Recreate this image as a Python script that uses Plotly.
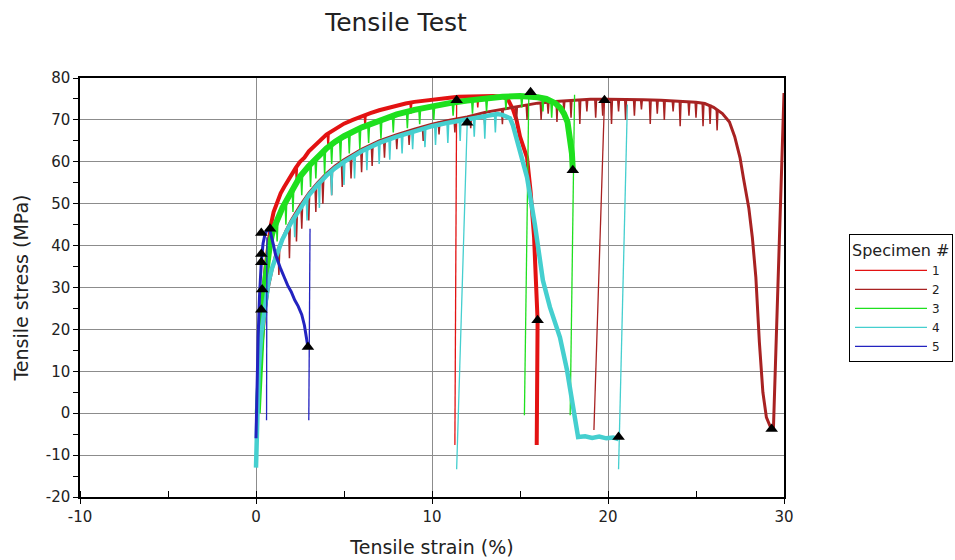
import plotly.graph_objects as go

# ---------------- data ----------------
specimens = ["1", "2", "3", "4", "5"]
colors = ["#e31212", "#a82222", "#1ee01e", "#45cfcf", "#2323c0"]

# Specimen 1 (red) - centre of the noisy band
s1_x = [0.1, 0.25, 0.4, 0.55, 0.7, 0.85, 1.0, 1.2, 1.4, 1.6,
        1.8, 2.0, 2.25, 2.5, 2.75, 3.0, 3.25, 3.5, 3.75, 4.0,
        4.5, 5.0, 5.5, 6.0, 6.5, 7.0, 7.5, 8.0, 8.5, 9.0,
        9.5, 10.0, 10.5, 11.0, 11.5, 12.0, 12.5, 13.0, 13.5, 14.0,
        14.3, 14.6, 14.8, 15.0, 15.2, 15.4, 15.6, 15.8, 15.9, 16.0,
        15.95]
s1_y = [0, 15, 27, 35, 41, 45, 48, 50.5, 52.5, 54,
        55.5, 57, 58.5, 60, 61, 62.5, 63.5, 64.6, 65.6, 66.5,
        67.8, 69.1, 70, 70.9, 71.6, 72.3, 72.9, 73.4, 73.9, 74.3,
        74.6, 74.9, 75.1, 75.3, 75.5, 75.6, 75.7, 75.8, 75.7, 75.5,
        75, 72.5, 70, 66, 63.5, 61, 53, 42, 32, 22.2,
        -7.6]
s1_jx = [11.3, 11.4]
s1_jy = [-7.6, 74.7]
s1_dip_x = [2.3, 4.1, 6.2, 8.8, 12.6]
s1_dip_top = [58.5, 66.6, 71.1, 74.1, 75.7]
s1_dip_low = [55, 63, 68, 71.5, 73]

# Specimen 2 (brown)
s2_x = [0.1, 0.3, 0.5, 0.7, 0.9, 1.1, 1.4, 1.7, 2.0, 2.5,
        3.0, 3.5, 4.0, 4.5, 5.0, 6.0, 7.0, 8.0, 9.0, 10.0,
        11.0, 12.0, 13.0, 14.0, 15.0, 16.0, 17.0, 18.0, 19.0, 20.0,
        21.0, 22.0, 23.0, 24.0, 25.0, 25.5, 26.0, 26.5, 26.9, 27.2,
        27.5, 27.7, 28.0, 28.2, 28.4, 28.6, 28.8, 29.0, 29.2, 29.4,
        30.0]
s2_y = [0, 14, 24, 30, 34, 37.5, 40.5, 43.5, 46, 49.5,
        52.5, 55, 57.2, 59, 60.5, 63, 65, 66.5, 67.8, 69,
        69.9, 70.7, 71.8, 72.5, 73.3, 74.0, 74.4, 74.7, 74.9, 74.9,
        74.9, 74.8, 74.7, 74.5, 74.2, 73.9, 73, 71.5, 69.5, 66,
        61, 56, 49, 42, 32.5, 17, 5, -1, -3, -3.6,
        76.4]
s2_jx = [19.2, 19.8]
s2_jy = [-4, 74.7]
s2_dip_x = [1.3, 1.9, 2.3, 2.6, 3.0, 3.4, 3.8, 4.3, 4.9, 5.4,
            6.0, 6.6, 7.3, 8.0, 8.7, 9.5, 10.4, 11.3, 12.2, 13.0,
            14.0, 14.8, 15.4, 16.2, 16.6, 17.1, 17.5, 17.9, 18.4, 18.8,
            19.3, 19.7, 20.2, 20.6, 21.0, 21.5, 21.9, 22.4, 22.8, 23.2,
            23.7, 24.1, 24.6, 25.0, 25.4, 25.8, 26.2]
s2_dip_top = [39.5, 45.2, 48, 49.8, 52.3, 54.3, 56, 58, 60, 61.2,
              62.8, 64, 65.3, 66.5, 67.6, 68.5, 69.6, 70.4, 71, 71.8,
              72.5, 73.2, 73.6, 74.1, 74.3, 74.5, 74.6, 74.7, 74.8, 74.9,
              74.9, 74.9, 74.9, 74.9, 74.9, 74.9, 74.8, 74.8, 74.7, 74.7,
              74.6, 74.5, 74.4, 74.2, 74, 73.6, 72.5]
s2_dip_low = [33, 37, 41, 44, 46, 48, 50, 52, 54, 56,
              57.5, 59, 61, 63, 64, 65, 66.5, 67, 68, 68.5,
              69, 69.5, 70, 70, 71.5, 69.5, 72, 70.5, 69, 72,
              70.5, 71, 69, 72, 70, 71, 72.5, 69, 71.5, 70,
              72, 68.5, 71, 70.5, 68.5, 69, 67.5]

# Specimen 3 (green)
s3_x = [0.1, 0.2, 0.3, 0.4, 0.5, 0.6, 0.7, 0.8, 0.9, 1.0,
        1.5, 2.0, 2.5, 3.0, 3.5, 4.0, 4.5, 5.0, 6.0, 7.0,
        8.0, 9.0, 10.0, 11.0, 12.0, 13.0, 14.0, 15.0, 15.5, 16.0,
        16.5, 17.0, 17.3, 17.5, 17.7, 17.85, 17.95, 18.0]
s3_y = [0, 12, 20, 26, 31, 35, 38, 40.5, 42.5, 44,
        49, 53, 56.5, 59, 61.3, 63.2, 64.8, 66.1, 68.2, 69.9,
        71.3, 72.4, 73.3, 74, 74.6, 75.1, 75.5, 75.7, 75.7, 75.4,
        75, 74, 72.8, 71.5, 69.5, 66, 62, 58]
s3_jx = [15.25, 15.5, None, 17.85, 18.1]
s3_jy = [-0.5, 76, None, -0.5, 76]
s3_dip_x = [1.2, 1.7, 2.1, 2.6, 3.1, 3.4, 3.9, 4.3, 4.8, 5.3,
            5.9, 6.4, 7.1, 7.8, 8.6, 9.3, 10.1, 11.2, 12.3, 13.1,
            14.2, 15.1, 16.3, 16.8]
s3_dip_top = [46.5, 51, 53.8, 57, 59.5, 60.8, 62.8, 64.2, 65.6, 66.8,
              68, 68.9, 70, 71, 72, 72.7, 73.4, 74.1, 74.8, 75.1,
              75.6, 75.7, 75.2, 74.5]
s3_dip_low = [41, 45, 48, 52, 54, 56, 57, 59.5, 60, 62,
              63, 64.5, 65.5, 67, 68, 69, 70, 71, 71.5, 72,
              72.5, 73, 72, 70.5]

# Specimen 4 (cyan)
s4_x = [0, 0.05, 0.15, 0.3, 0.5, 0.7, 0.9, 1.1, 1.3, 1.5,
        2.0, 2.5, 3.0, 3.5, 4.0, 4.5, 5.0, 6.0, 7.0, 8.0,
        9.0, 10.0, 11.0, 12.0, 13.0, 13.7, 14.0, 14.43, 14.6, 15.0,
        15.4, 15.85, 16.3, 16.7, 17.27, 17.67, 17.95, 18.3, 18.7, 19.1,
        19.5, 19.9, 20.3, 20.6]
s4_y = [-13, -3, 10, 19, 26, 31, 34.5, 37, 39.5, 41.5,
        45.5, 49, 52, 54.5, 56.7, 58.5, 60, 62.5, 64.5, 66,
        67.3, 68.5, 69.4, 70.2, 71, 71.4, 71.2, 70.4, 68.7, 62.8,
        56.3, 44.9, 31.7, 25.3, 18.1, 10.3, 3.8, -5.7, -5.5, -5.9,
        -5.6, -6, -5.8, -6.2]
s4_jx = [11.4, 12.0, None, 20.6, 21.1]
s4_jy = [-13.4, 69.2, None, -13.4, 73.7]
s4_dip_x = [2.2, 2.9, 3.6, 4.3, 5.0, 5.6, 6.3, 7.0, 7.6, 8.3,
            8.9, 9.6, 10.2, 10.9, 11.6, 12.4, 13.0, 13.6]
s4_dip_top = [47, 51.4, 55, 57.8, 60, 61.5, 63.1, 64.5, 65.4, 66.4,
              67.2, 68.1, 68.7, 69.3, 69.9, 70.5, 71, 71.3]
s4_dip_low = [42, 46, 49, 52, 54.5, 56, 58, 59.5, 60.5, 62,
              63, 63.5, 64, 64.5, 65, 66, 65.5, 67]

# Specimen 5 (blue)
s5_x = [0, 0.05, 0.12, 0.2, 0.3, 0.4, 0.5, 0.6, 0.7, 0.8,
        0.9, 1.0, 1.1, 1.25, 1.4, 1.6, 1.8, 2.0, 2.2, 2.4,
        2.6, 2.75, 2.85, 2.95]
s5_y = [-6, 5, 18, 28, 36, 40.5, 42.5, 43.5, 43.8, 43.5,
        42, 40, 38, 36, 34.5, 32.5, 30.5, 29, 27, 25.5,
        23.5, 21, 18.5, 15.8]
s5_jx = [0.6, 0.62, None, 3.07, 3.0]
s5_jy = [-1.7, 42, None, 44, -1.7]
s5_dip_x = []
s5_dip_top = []
s5_dip_low = []

# Event markers (black triangles)
mk_x = [0.3, 0.8, 0.3, 0.3, 0.35, 0.3, 2.95, 11.4, 12.0, 15.6,
        18.0, 19.8, 16.0, 20.6, 29.3]
mk_y = [43, 44, 38, 36, 29.5, 24.7, 15.8, 74.7, 69.3, 76.6,
        58, 74.7, 22.2, -5.7, -3.8]

x_ticks = [-10, 0, 10, 20, 30]
y_ticks = [-20, -10, 0, 10, 20, 30, 40, 50, 60, 70, 80]

main_x = [s1_x, s2_x, s3_x, s4_x, s5_x]
main_y = [s1_y, s2_y, s3_y, s4_y, s5_y]
jump_x = [s1_jx, s2_jx, s3_jx, s4_jx, s5_jx]
jump_y = [s1_jy, s2_jy, s3_jy, s4_jy, s5_jy]
dip_x = [s1_dip_x, s2_dip_x, s3_dip_x, s4_dip_x, s5_dip_x]
dip_top = [s1_dip_top, s2_dip_top, s3_dip_top, s4_dip_top, s5_dip_top]
dip_low = [s1_dip_low, s2_dip_low, s3_dip_low, s4_dip_low, s5_dip_low]
main_w = [4, 3, 6, 4.5, 3]

for a, b in zip(main_x, main_y):
    assert len(a) == len(b), (len(a), len(b))
for a, b, c in zip(dip_x, dip_top, dip_low):
    assert len(a) == len(b) == len(c), (len(a), len(b), len(c))


def spikes(xs, tops, lows):
    sx, sy = [], []
    for x, t, l in zip(xs, tops, lows):
        sx += [x - 0.05, x, x + 0.05, None]
        sy += [t, l, t, None]
    return sx, sy


FONT = "DejaVu Sans"
fig = go.Figure()
for i, name in enumerate(specimens):
    fig.add_trace(go.Scatter(x=jump_x[i], y=jump_y[i], mode="lines", name=name,
                             legendgroup=name, showlegend=True,
                             line=dict(color=colors[i], width=1.3)))
    fig.add_trace(go.Scatter(x=main_x[i], y=main_y[i], mode="lines", name=name,
                             legendgroup=name, showlegend=False,
                             line=dict(color=colors[i], width=main_w[i])))
    if dip_x[i]:
        sx, sy = spikes(dip_x[i], dip_top[i], dip_low[i])
        fig.add_trace(go.Scatter(x=sx, y=sy, mode="lines", name=name,
                                 legendgroup=name, showlegend=False,
                                 line=dict(color=colors[i], width=1.5)))
fig.add_trace(go.Scatter(x=mk_x, y=mk_y, mode="markers", showlegend=False,
                         marker=dict(symbol="triangle-up", size=11, color="black")))

axis_common = dict(showline=True, linecolor="black", linewidth=1.5, mirror=True,
                   showgrid=True, gridcolor="#8c8c8c", gridwidth=1.2, zeroline=False,
                   ticks="outside", ticklen=5, tickcolor="black", tickwidth=1.2,
                   tickfont=dict(family=FONT, size=15, color="#222"))
fig.update_xaxes(range=[-10, 30], tickvals=x_ticks, ticktext=[str(v) for v in x_ticks],
                 minor=dict(dtick=5, tick0=0, ticks="inside", ticklen=6, tickcolor="black", showgrid=False),
                 title=dict(text="Tensile strain (%)", font=dict(family=FONT, size=19, color="#222"), standoff=16),
                 **axis_common)
fig.update_yaxes(range=[-20, 80], tickvals=y_ticks, ticktext=[str(v) for v in y_ticks],
                 minor=dict(dtick=5, tick0=0, ticks="outside", ticklen=5, tickcolor="black", showgrid=False),
                 title=dict(text="Tensile stress (MPa)", font=dict(family=FONT, size=19, color="#222"), standoff=12),
                 **axis_common)

fig.update_layout(
    width=955, height=560,
    margin=dict(l=80, r=171, t=78, b=63, autoexpand=False),
    paper_bgcolor="white", plot_bgcolor="white",
    title=dict(text="Tensile Test", x=396 / 955, xref="container", xanchor="center",
               y=1 - 22 / 560, yref="container", yanchor="middle",
               font=dict(family=FONT, size=25, color="#222")),
    legend=dict(x=(849 - 80) / 704, y=(497 - 234) / 419, xanchor="left", yanchor="top",
                bordercolor="black", borderwidth=1, bgcolor="white",
                title=dict(text="Specimen #", font=dict(family=FONT, size=16, color="#222")),
                font=dict(family=FONT, size=12, color="#222"), itemwidth=72, tracegroupgap=0),
    showlegend=True,
)

fig.write_html("out.html")
